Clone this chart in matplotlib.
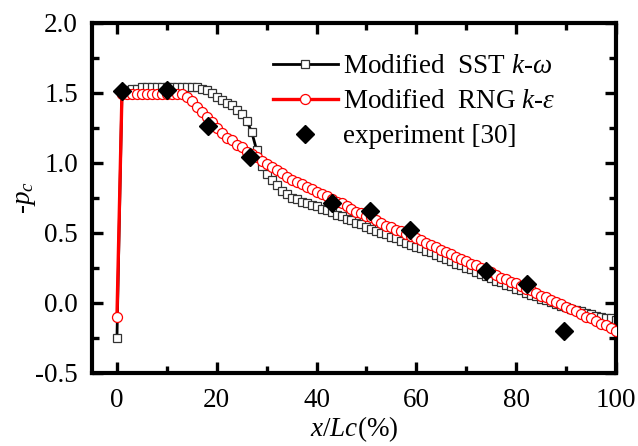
import numpy as np
import matplotlib
matplotlib.use("Agg")
import matplotlib.pyplot as plt
from matplotlib.ticker import MultipleLocator

plt.rcParams['font.family'] = ['Liberation Serif', 'DejaVu Serif']
plt.rcParams['mathtext.fontset'] = 'custom'
plt.rcParams['mathtext.rm'] = 'Liberation Serif'
plt.rcParams['mathtext.it'] = 'Liberation Serif:italic'

# chordwise position x/Lc (%), one sample per percent
x_pos = list(range(0, 101))

# Modified SST k-omega
sst_cp = [
    -0.25, 1.50, 1.52, 1.53, 1.53, 1.54, 1.54, 1.54, 1.54, 1.54,
    1.54, 1.54, 1.54, 1.54, 1.54, 1.54, 1.54, 1.53, 1.52, 1.50,
    1.47, 1.45, 1.43, 1.41, 1.38, 1.35, 1.30, 1.22, 1.09, 0.98,
    0.92, 0.88, 0.84, 0.80, 0.78, 0.75, 0.74, 0.72, 0.71, 0.70,
    0.69, 0.67, 0.66, 0.65, 0.63, 0.62, 0.60, 0.59, 0.57, 0.56,
    0.54, 0.53, 0.51, 0.50, 0.49, 0.47, 0.46, 0.44, 0.43, 0.41,
    0.40, 0.39, 0.37, 0.36, 0.34, 0.33, 0.31, 0.30, 0.28, 0.27,
    0.25, 0.24, 0.22, 0.21, 0.19, 0.18, 0.16, 0.15, 0.13, 0.12,
    0.10, 0.09, 0.07, 0.06, 0.05, 0.03, 0.02, 0.01, -0.01, -0.02,
    -0.03, -0.04, -0.05, -0.06, -0.07, -0.08, -0.09, -0.10, -0.11, -0.11,
    -0.12,
]

# Modified RNG k-epsilon
rng_cp = [
    -0.10, 1.49, 1.49, 1.49, 1.49, 1.49, 1.49, 1.49, 1.49, 1.49,
    1.49, 1.49, 1.49, 1.49, 1.47, 1.44, 1.40, 1.36, 1.33, 1.29,
    1.25, 1.21, 1.18, 1.16, 1.13, 1.11, 1.08, 1.06, 1.04, 1.01,
    0.99, 0.97, 0.95, 0.93, 0.90, 0.88, 0.86, 0.85, 0.83, 0.81,
    0.79, 0.78, 0.76, 0.74, 0.72, 0.71, 0.69, 0.67, 0.65, 0.64,
    0.62, 0.61, 0.59, 0.57, 0.55, 0.54, 0.52, 0.51, 0.49, 0.48,
    0.46, 0.45, 0.43, 0.41, 0.40, 0.38, 0.36, 0.35, 0.33, 0.31,
    0.30, 0.28, 0.27, 0.25, 0.23, 0.22, 0.20, 0.18, 0.17, 0.15,
    0.14, 0.12, 0.10, 0.09, 0.07, 0.05, 0.04, 0.02, 0.01, -0.01,
    -0.03, -0.04, -0.06, -0.08, -0.10, -0.11, -0.13, -0.15, -0.16, -0.18,
    -0.20,
]

# experiment [30]
exp_x = [1.1, 10.0, 18.2, 26.6, 43.0, 50.8, 58.7, 74.0, 82.1, 89.6]
exp_cp = [1.51, 1.52, 1.26, 1.045, 0.715, 0.655, 0.52, 0.23, 0.135, -0.20]

fig = plt.figure(figsize=(6.38, 4.46), dpi=100)
ax = fig.add_axes([0.1442, 0.1637, 0.8213, 0.7854])

ax.plot(x_pos, sst_cp, color='black', lw=2.0, marker='s', ms=6.0,
        mfc='white', mec='#333333', mew=0.9, label=r'Modified  SST $k$-$\omega$', zorder=2)
ax.plot(x_pos, rng_cp, color='red', lw=2.4, marker='o', ms=7.2,
        mfc='white', mec='red', mew=0.9, label=r'Modified  RNG $k$-$\varepsilon$', zorder=3)
ax.plot(exp_x, exp_cp, ls='none', marker='D', ms=9.5, color='black',
        label='experiment [30]', zorder=4)

ax.set_xlim(-5, 100)
ax.set_ylim(-0.5, 2.0)
ax.xaxis.set_major_locator(MultipleLocator(20))
ax.xaxis.set_minor_locator(MultipleLocator(10))
ax.yaxis.set_major_locator(MultipleLocator(0.5))
ax.yaxis.set_minor_locator(MultipleLocator(0.25))
ax.yaxis.set_major_formatter(matplotlib.ticker.FormatStrFormatter('%.1f'))

ax.tick_params(which='both', direction='in', top=True, right=True,
               labelsize=19.5)
ax.tick_params(axis='y', pad=10)
ax.tick_params(axis='x', pad=11)
ax.tick_params(which='major', length=8, width=2.4)
ax.tick_params(which='minor', length=5, width=2.4)
for sp in ax.spines.values():
    sp.set_linewidth(3.0)

ax.set_xlabel(r'$x$/$Lc$(%)', fontsize=19.5, labelpad=1)
ax.set_ylabel(r'-$p_c$', fontsize=19.5, labelpad=-2)

ax.legend(loc='upper left', bbox_to_anchor=(0.345, 0.91), frameon=False,
          fontsize=19.5, handlelength=2.4, handletextpad=0.2,
          labelspacing=0.37, borderpad=0, borderaxespad=0)

fig.savefig('out.png', dpi=100)
